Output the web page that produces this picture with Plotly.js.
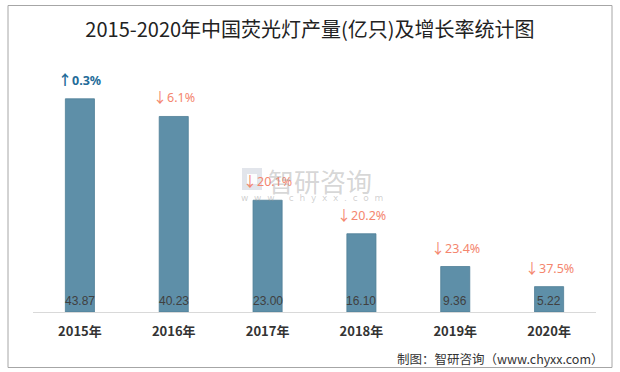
<!DOCTYPE html>
<html><head><meta charset="utf-8">
<script src="https://cdn.plot.ly/plotly-3.0.1.min.js"></script>
<style>body{margin:0;background:#fff}#c{width:620px;height:372px}</style>
</head><body><div id="c"></div>
<script>
const years = ['2015年','2016年','2017年','2018年','2019年','2020年'];
const output = [43.87, 40.23, 23.00, 16.10, 9.36, 5.22];
const growthArrows = ['↑','↓','↓','↓','↓','↓'];
const growthRates = ['0.3%','6.1%','20.1%','20.2%','23.4%','37.5%'];
const growthUp = [true, false, false, false, false, false];

const ML = 33, MR = 24, MT = 60, MB = 60, W = 620, H = 372;
const PW = W - ML - MR, PH = H - MT - MB;
const px = x => (x - ML) / PW;
const py = y => (H - MB - y) / PH;

const ann = [];
years.forEach((c, i) => {
  ann.push({x: c, y: 0, xref: 'x', yref: 'y', text: output[i].toFixed(2), showarrow: false,
    yanchor: 'bottom', yshift: 2, font: {family: 'Liberation Sans, Arial', size: 12, color: '#404040'}});
  const col = growthUp[i] ? '#1F6C99' : '#F4866E';
  ann.push({x: c, y: output[i], xref: 'x', yref: 'y',
    text: '<span style="font-family:Noto Sans CJK SC;font-size:14px">' + growthArrows[i] + '</span>' + growthRates[i],
    showarrow: false, yanchor: 'bottom', yshift: 8,
    font: {family: 'Noto Sans, DejaVu Sans', size: 12.5, color: col, weight: growthUp[i] ? 'bold' : 'normal'}});
});
// watermark
ann.push({x: px(320), y: py(180), xref: 'paper', yref: 'paper', text: '智研咨询', showarrow: false,
  font: {family: 'Noto Sans CJK SC', size: 26, color: 'rgba(150,150,150,0.4)'}});
ann.push({x: px(312), y: py(198), xref: 'paper', yref: 'paper', text: 'w  w  w  .  c  h  y  x  x  .  c  o  m', showarrow: false,
  font: {family: 'DejaVu Sans', size: 9, color: 'rgba(150,150,150,0.45)'}});
// footer
ann.push({x: px(606), y: py(358), xref: 'paper', yref: 'paper', text: '制图：智研咨询（www.chyxx.com）', showarrow: false,
  xanchor: 'right', yanchor: 'middle', font: {family: 'Noto Sans CJK SC', size: 12.5, color: '#333'}});

const data = [{
  type: 'bar', x: years, y: output,
  marker: {color: '#5E8FA8', line: {color: '#4F7F97', width: 0.8}},
  hoverinfo: 'none'
}];

const layout = {
  width: W, height: H,
  margin: {l: ML, r: MR, t: MT, b: MB},
  paper_bgcolor: '#fff', plot_bgcolor: '#fff',
  title: {text: '2015-2020年中国荧光灯产量(亿只)及增长率统计图', x: 0.5, xanchor: 'center', y: 1 - 30/H, yanchor: 'middle',
    font: {family: 'Noto Sans CJK SC', size: 20, color: '#222'}},
  bargap: 0.69,
  showlegend: false,
  xaxis: {showline: true, linecolor: '#d9d9d9', linewidth: 1, ticks: '', showgrid: false,
    tickfont: {family: 'Noto Sans CJK SC', size: 13, color: '#333', weight: 'bold'}, ticklabelstandoff: 7},
  yaxis: {range: [0, PH / 4.86], visible: false, showgrid: false, zeroline: false},
  annotations: ann,
  shapes: [
    {type: 'rect', xref: 'paper', yref: 'paper', x0: px(8), x1: px(612), y0: py(367.5), y1: py(5.5),
      line: {color: '#a6a6a6', width: 1}, fillcolor: 'rgba(0,0,0,0)', layer: 'below'},
    {type: 'rect', xref: 'paper', yref: 'paper', x0: px(242), x1: px(262), y0: py(190), y1: py(168),
      line: {width: 0}, fillcolor: 'rgba(160,170,190,0.3)', layer: 'below'},
    {type: 'rect', xref: 'paper', yref: 'paper', x0: px(247), x1: px(257), y0: py(184), y1: py(174),
      line: {width: 0}, fillcolor: 'rgba(255,255,255,0.9)', layer: 'below'}
  ]
};
Plotly.newPlot('c', data, layout, {displayModeBar: false, staticPlot: true});
</script></body></html>
